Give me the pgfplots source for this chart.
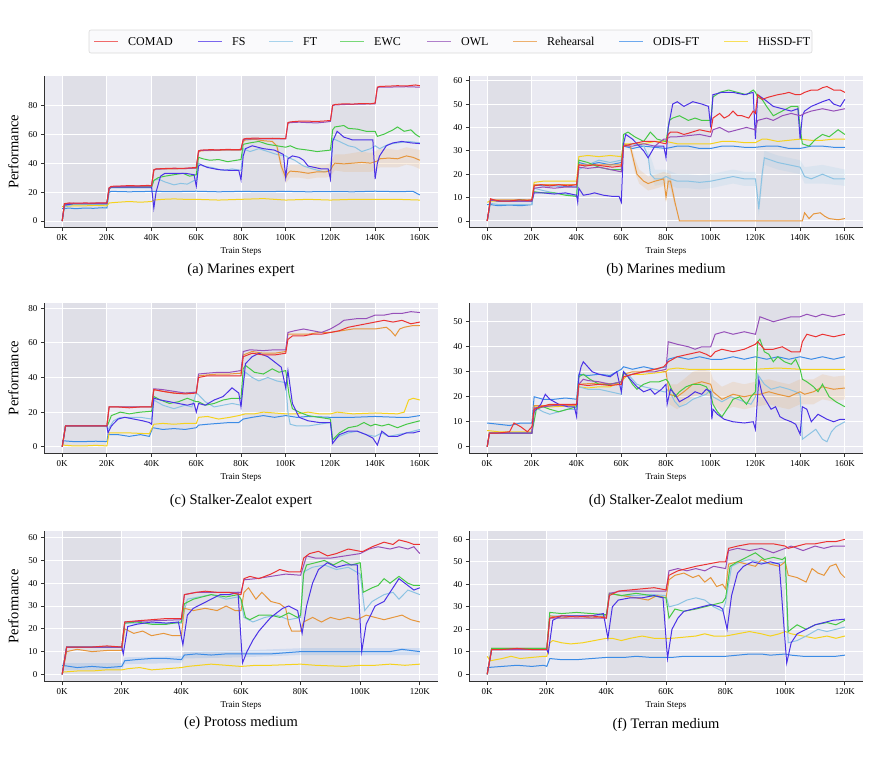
\documentclass[border=0pt]{standalone}
\usepackage{fontspec}
\setmainfont{Liberation Serif}
\usepackage{pgfplots}
\pgfplotsset{compat=1.18}
\definecolor{comad}{HTML}{EB3232}
\definecolor{fs}{HTML}{4B32E6}
\definecolor{ft}{HTML}{8CC3E3}
\definecolor{ewc}{HTML}{46C846}
\definecolor{owl}{HTML}{9650B9}
\definecolor{reh}{HTML}{E6963C}
\definecolor{odis}{HTML}{3C8CE6}
\definecolor{hissd}{HTML}{F5D21E}
\definecolor{bgc}{HTML}{EAEAF2}
\definecolor{shc}{HTML}{DFDFE7}
\definecolor{lcomad}{HTML}{F06A6A}
\definecolor{lfs}{HTML}{7A66EE}
\definecolor{lft}{HTML}{A8D3EC}
\definecolor{lewc}{HTML}{78D878}
\definecolor{lowl}{HTML}{B07FCB}
\definecolor{lreh}{HTML}{EDB06E}
\definecolor{lodis}{HTML}{6DA9EE}
\definecolor{lhissd}{HTML}{F8DF5A}
\pgfplotsset{
 base/.style={
  set layers, scale only axis, width=393.4pt,
  axis background/.style={fill=bgc},
  axis x line=bottom, axis y line=left,
  axis line style={-, draw=black!80, line width=0.8pt},
  tick align=outside, major tick length=3.5pt,
  tick style={draw=black!80, line width=0.8pt},
  grid=major, major grid style={draw=white, line width=0.9pt},
  tick label style={font=\fontsize{9}{10}\selectfont},
  /pgf/number format/assume math mode=true,
  xlabel={Train Steps},
  every axis x label/.style={at={(rel axis cs:0.5,0)}, anchor=center, yshift=-24pt, font=\fontsize{9}{10}\selectfont},
  every axis title/.style={at={(rel axis cs:0.5,0)}, anchor=center, yshift=-42.5pt, font=\fontsize{14.5}{16}\selectfont},
  every axis y label/.style={at={(rel axis cs:0,0.5)}, xshift=-31pt, rotate=90, anchor=center, font=\fontsize{14.5}{16}\selectfont},
  every axis plot/.append style={line width=1pt},
  no marks,
 },
 x160/.style={xmin=-8, xmax=168, xtick={0,20,...,160}, xticklabels={0K,20K,40K,60K,80K,100K,120K,140K,160K}},
 x120/.style={xmin=-6, xmax=126, xtick={0,20,...,120}, xticklabels={0K,20K,40K,60K,80K,100K,120K}},
 band/.style={fill=shc, draw=none, on layer=axis background, forget plot},
 ci/.style={fill=#1, fill opacity=0.15, draw=none, forget plot},
}
\newcommand{\bandsA}[2]{%
\addplot[band] coordinates {(0,#1)(0,#2)(20,#2)(20,#1)};
\addplot[band] coordinates {(40,#1)(40,#2)(60,#2)(60,#1)};
\addplot[band] coordinates {(80,#1)(80,#2)(100,#2)(100,#1)};
\addplot[band] coordinates {(120,#1)(120,#2)(140,#2)(140,#1)};}
\newcommand{\bandsB}[2]{%
\addplot[band] coordinates {(0,#1)(0,#2)(20,#2)(20,#1)};
\addplot[band] coordinates {(40,#1)(40,#2)(60,#2)(60,#1)};
\addplot[band] coordinates {(80,#1)(80,#2)(100,#2)(100,#1)};}
\newcommand{\legitem}[3]{%
  \draw[draw=#2, line width=1.5pt] (#1pt,-41.5pt) -- ++(24pt,0pt);
  \node[anchor=base west, inner sep=0pt, font=\fontsize{12}{13}\selectfont] at ({#1pt+34pt},-45.6pt) {#3};}
\begin{document}
\begin{tikzpicture}
\path (0,0) rectangle (869pt,-758pt);
% ---------------- legend
\draw[black!15, fill=white!75!bgc, rounded corners=2pt, line width=0.6pt] (89pt,-30pt) rectangle (812pt,-53pt);
\legitem{94}{lcomad}{COMAD}
\legitem{198}{lfs}{FS}
\legitem{269}{lft}{FT}
\legitem{340}{lewc}{EWC}
\legitem{427}{lowl}{OWL}
\legitem{513}{lreh}{Rehearsal}
\legitem{619}{lodis}{ODIS-FT}
\legitem{724}{lhissd}{HiSSD-FT}
% ---------------- (a)
\begin{axis}[base, x160, at={(44.3pt,-76pt)}, anchor=north west, height=151.7pt,
 ymin=-4.6, ymax=100.2, ytick={0,20,...,80}, ylabel={Performance}, title={(a) Marines expert}]
\bandsA{-4.6}{100.2}
\addplot[ci=reh] coordinates {(96,55)(98,42)(100,35)(102,39)(106,39)(110,38)(114,39)(118,39)(120,40)(122,46)(126,46)(130,47)(134,48)(138,47)(140,48)(142,50)(146,50)(150,49)(154,51)(157,50)(160,49)(160,36)(157,38)(154,39)(150,37)(146,37)(142,37)(140,35)(138,34)(134,34)(130,34)(126,34)(122,35)(120,31)(118,30)(114,30)(110,29)(106,30)(102,30)(100,26)(98,34)(96,50)};
\addplot[odis] coordinates {(0,8.5)(0.5,8.5)(3,9)(6,8.5)(10,9)(14,8.8)(18,9.2)(20,9)(21,20)(22,20.5)(30,20.2)(40,20.5)(50,20.3)(60,20.6)(70,20.2)(80,20.5)(90,20.3)(100,20.5)(110,20.2)(120,20.4)(130,20.2)(140,20.6)(150,20.3)(157,20.5)(160,18)};
\addplot[hissd] coordinates {(0,10)(0.5,10)(5,10.5)(10,10.5)(15,10.8)(20,10.5)(21,12.5)(25,13)(30,13.5)(35,13)(40,13.5)(41,14.5)(45,15)(50,15.3)(55,15)(60,15)(70,14.5)(80,15)(90,15.5)(100,14.5)(110,15)(120,14.5)(130,15)(140,15)(150,15)(160,14.5)};
\addplot[ft] coordinates {(0,0)(1,10)(5,11.5)(10,11.5)(15,11.5)(20,11.5)(21,22)(22,23)(30,23)(40,23)(41,28)(43,29)(46,27)(50,25)(53,26)(56,25.5)(59,28)(60,28)(61,40)(63,38)(67,37)(72,35)(76,36)(80,35)(81,50)(84,48)(88,50)(92,48)(96,46)(100,45)(101,44)(104,42)(108,38)(112,36)(117,34)(120,35)(121,57)(124,55)(128,52)(131,51)(134,48)(138,50)(140,52)(142,50)(146,53)(150,54)(155,55)(160,54)};
\addplot[reh] coordinates {(0,0)(1,11.5)(5,12)(10,12)(15,12.2)(20,12)(21,22.5)(22,23.5)(28,23.8)(34,24)(40,24)(41,35)(42,36)(48,36)(54,36.2)(60,36.5)(61,47.5)(62,48.5)(68,48.8)(74,49)(80,49)(81,55)(82,56)(86,56.5)(90,55.5)(94,55)(96,52)(98,38)(100,30)(101,33)(102,34.5)(106,34)(110,33)(114,34)(118,34)(120,35)(121,38)(122,40)(126,39.5)(130,40)(134,40.5)(138,40)(140,41)(141,41.5)(142,43)(146,43.5)(150,43)(154,45)(157,44)(160,42)};
\addplot[ewc] coordinates {(0,0)(1,11)(5,12)(10,12)(15,12)(20,12)(21,22.5)(22,23.5)(28,23.5)(34,23.5)(40,23.5)(41,28)(43,30)(46,31)(50,32)(54,33)(57,31)(60,32)(61,44)(63,43)(66,42)(70,42.5)(74,41)(78,42)(80,42.5)(81,53)(84,54)(88,55)(92,53)(96,52)(100,51)(102,52)(105,50)(110,49)(114,48)(117,48.5)(120,49)(121,63)(122,65)(126,66)(128,64)(132,63.5)(136,62)(140,62)(141,58.5)(144,60)(148,63)(150,65)(153,62)(156,63)(158,60)(160,58)};
\addplot[fs] coordinates {(0,0)(1,11)(5,12)(10,12)(15,12)(20,12)(21,22.5)(22,23.5)(28,23.5)(34,23.5)(40,23.5)(41,9)(42,20)(44,31)(46,33)(50,33)(55,33)(59,32)(60,24)(61,38)(62,39)(65,37)(70,35.5)(75,35)(79,35)(80,28.5)(81,45)(82,50)(85,52)(90,50)(95,49)(99,46)(100,30)(101,43)(103,45)(106,44)(108,42)(110,38)(113,37)(116,36)(119,36)(120,29)(121,55)(123,62)(126,58)(130,56)(135,56)(139,56)(140,29)(141,40)(142,45)(145,52)(148,54)(152,55)(156,54)(160,53.5)};
\addplot[owl] coordinates {(0,0)(1,11.8)(5,12.3)(10,12.2)(15,12.4)(20,12.3)(21,22.8)(22,23.8)(28,24)(34,24.2)(40,24.3)(41,35.3)(42,35.8)(48,36.2)(54,36.2)(60,36.6)(61,48)(62,48.8)(68,49)(74,49.2)(80,49.2)(81,56)(82,56.6)(88,56.8)(94,56.8)(100,56.8)(101,67.5)(102,68)(106,68.3)(110,68)(114,67.8)(118,68.4)(120,68.8)(121,79.8)(122,80.2)(128,80.6)(134,80.8)(140,81)(141,92)(142,92.6)(148,92.6)(154,92.8)(160,92.5)};
\addplot[comad] coordinates {(0,0)(1,12)(3,12.5)(6,12.3)(10,12.5)(14,12.4)(17,12.6)(20,12.5)(21,23)(22,24)(26,24.2)(30,24.5)(34,24.3)(38,24.6)(40,24.5)(41,35.5)(42,36)(46,36.3)(50,36.5)(54,36.4)(58,36.8)(60,37)(61,48.5)(62,49)(66,49.3)(70,49.2)(74,49.5)(78,49.3)(80,49.5)(81,56.5)(82,57)(86,57.3)(90,57.1)(94,57.2)(98,57)(100,57)(101,68)(102,68.5)(106,69)(110,69)(114,68.8)(118,69.2)(120,69.5)(121,80)(122,80.5)(126,81)(130,80.8)(134,81.2)(138,81)(140,81.5)(141,92.5)(142,93)(146,93.2)(150,93.5)(154,93.3)(158,94)(160,93.5)};
\end{axis}
% ---------------- (b)
\begin{axis}[base, x160, at={(469.3pt,-76pt)}, anchor=north west, height=151.7pt,
 ymin=-2.9, ymax=62, ytick={0,10,...,60}, title={(b) Marines medium}]
\bandsA{-2.9}{62}
\addplot[ci=ft] coordinates {(72,31)(75,22)(80,22)(85,20)(90,20)(95,19.5)(100,20)(105,21)(110,22)(115,21)(120,21)(121.5,10)(124,30)(130,28)(140,26)(142,23)(150,24)(160,22)(160,15)(150,16)(142,16)(140,20)(130,22)(124,24)(121.5,2)(120,15)(115,15)(110,16)(105,15)(100,14)(95,13.5)(90,14)(85,14)(80,16)(75,15)(72,25)};
\addplot[ci=reh] coordinates {(64,34)(66,27)(68,22)(72,19)(76,20)(79,21)(82,20)(84,10)(84,6)(82,14)(79,15)(76,14)(72,13)(68,16)(66,21)(64,30)};
\addplot[odis] coordinates {(0,7)(1.5,7)(5,6.5)(10,6.8)(15,6.5)(20,7)(21,15.5)(25,15)(30,15)(35,14.8)(40,14.5)(41,25)(45,24)(50,25)(55,24)(60,25)(61,32)(65,31)(70,32)(75,31.5)(80,31)(85,32)(90,32)(95,31)(100,31)(105,32)(110,32)(115,31.5)(120,31.5)(125,32)(130,32)(135,31)(140,31)(145,32)(150,32)(155,31.5)(160,31.5)};
\addplot[hissd] coordinates {(0,8)(1.5,8.5)(5,8.5)(10,8.5)(15,8.5)(20,8.5)(21,16.5)(25,17)(30,17)(35,17)(40,17)(41,27.5)(45,28)(50,27.5)(55,28)(60,27.5)(61,33)(65,33)(70,33)(75,34)(80,34)(85,33)(90,33)(95,33)(100,33)(105,34)(110,34)(115,33.5)(120,33.5)(123,35)(125,35)(130,34)(135,34.5)(140,35)(145,34.5)(150,34.5)(155,35)(160,35)};
\addplot[ft] coordinates {(0,0)(1.5,7.5)(5,7)(10,7)(15,7)(20,7)(21,14)(25,13)(30,12)(35,11.5)(40,10.5)(41,22)(45,24)(50,26)(55,25)(60,26)(61,32)(65,33)(70,32)(72,28)(73,20)(75,18)(78,18)(80,19)(82,18)(85,17)(90,17)(95,16.5)(100,17)(105,18)(110,19)(115,18)(120,18)(121,10)(121.5,5)(123,20)(124,27)(127,26)(130,25)(135,24)(140,23)(142,19)(145,18)(150,20)(155,18)(160,18)};
\addplot[reh] coordinates {(0,0)(1.5,9)(5,9)(10,9)(15,9)(20,9)(21,15.5)(30,15.5)(40,15.5)(41,24)(50,24)(60,24)(61,33)(64,32)(66,24)(67,20)(70,17)(72,16)(75,17)(79,18)(80,10)(81,17)(82,17)(84,8)(86,0)(90,0)(100,0)(110,0)(120,0)(130,0)(141,0)(142,3.5)(144,1)(146,3)(149,3.5)(151,2)(153,1)(157,0.5)(160,1)};
\addplot[ewc] coordinates {(0,0)(1.5,9)(5,8.5)(10,8.5)(15,9)(20,8.5)(21,12.5)(25,12)(30,12)(35,11)(40,10.5)(41,26)(45,25)(50,23)(55,22)(60,22)(61,37)(63,38)(66,36)(70,34)(73,38)(76,35)(80,34)(81,40)(81.5,43)(83,44)(86,45)(90,43)(93,44)(96,43)(100,43)(101,53)(104,55)(108,56)(112,55)(116,54)(119,56)(120,55)(121,53)(123,52)(125,49)(128,45)(132,47)(136,49)(139,49)(140,40)(141,33)(144,32)(147,35)(150,37)(153,36)(157,39)(160,37)};
\addplot[fs] coordinates {(0,0)(1.5,9)(5,8.5)(10,8.5)(15,8.5)(20,8.5)(21,12)(25,12)(30,11.5)(35,12)(40,11)(40.5,8)(41,14)(43,11)(46,11.5)(48,12)(52,11)(56,10.5)(59,10.5)(60,8)(61,33)(62,37)(65,35)(68,32)(70,30)(72,27)(75,32)(79,32)(80,27)(81,40)(83,50)(85,51)(88,49)(92,51)(96,50)(99,49)(100,40)(101,54)(105,55)(110,55)(115,54)(119,55)(120,35)(121,54)(124,52)(128,49)(132,48)(136,47)(139,48)(140,35)(141,45)(142,47)(145,49)(150,51)(153,52)(155,50)(158,49)(160,52)};
\addplot[owl] coordinates {(0,0)(1.5,9)(5,8.5)(10,8.5)(15,8.5)(20,8.5)(21,14)(25,14.5)(30,14)(35,14.5)(40,14.5)(41,23)(45,22.5)(50,23)(55,22)(60,21)(61,32)(65,32)(70,33)(75,32)(79,35)(80,35)(82,36)(85,36)(90,36.5)(95,37)(100,36)(101,39)(104,40)(108,38)(112,39)(116,40)(120,39)(121,43)(125,44)(128,43)(132,45)(136,46)(140,45)(142,46)(145,47)(150,48)(155,47)(160,48)};
\addplot[comad] coordinates {(0,0)(1.5,9.5)(3,9)(6,8.5)(10,8.5)(14,9)(18,8.8)(20,9)(21,15)(24,15.5)(28,15)(32,15.5)(36,15)(40,15.5)(41,24)(44,23.5)(48,24)(52,23.5)(56,23)(60,23.5)(61,32)(65,33)(70,34)(75,34)(80,33)(81,37)(82,38)(85,38)(88,37)(90,37.5)(95,39)(100,38)(101,44)(104,46)(106,44)(108,45)(110,47)(112,45)(114,45)(117,44)(119,47)(120,46)(121,54)(123,52)(126,53)(130,54)(133,54.5)(135,55)(138,54)(140,54)(142,55)(145,56)(148,56)(150,57)(152,57.5)(155,56)(158,56)(160,55)};
\end{axis}
% ---------------- (c)
\begin{axis}[base, x160, at={(44.3pt,-303pt)}, anchor=north west, height=150pt,
 ymin=-3.6, ymax=83, ytick={0,20,...,80}, ylabel={Performance}, title={(c) Stalker-Zealot expert},
 title style={yshift=-5.5pt}, xlabel style={yshift=-0.7pt}]
\bandsA{-3.6}{83}
\addplot[odis] coordinates {(0,3.5)(5,3)(10,3)(15,3.2)(20,3)(20.5,7)(25,7)(30,6)(35,7)(39,6)(40.5,11)(45,10)(50,10.5)(55,10)(60,11)(61,12.5)(65,13)(70,13.5)(75,14)(79,14)(81,16)(85,17)(90,18)(95,17)(100,18)(105,17)(110,17.5)(120,17)(130,17)(140,17.5)(150,17)(155,17)(160,18)};
\addplot[hissd] coordinates {(0,1)(5,0.5)(10,0.5)(15,0.8)(20,0.5)(21,8)(30,8)(39,7.5)(41,13)(45,13.5)(50,13)(55,13.5)(60,13.5)(61,17)(65,17.5)(70,16)(75,17)(79,18)(82,19)(86,19)(90,20)(95,19.5)(100,19)(105,19)(110,20)(115,19)(120,19)(123,20)(130,19)(140,19.5)(150,19)(153,20)(155,27)(157,28)(160,27)};
\addplot[ft] coordinates {(0,0)(1.5,12)(20,12)(20.5,10)(23,15)(26,17)(30,17)(35,17)(40,16)(41,27)(45,24)(50,22)(55,24)(58,23)(60,31)(61,30)(64,26)(68,23)(72,24)(76,25)(80,24)(81,38)(82,43)(85,40)(88,38)(92,40)(96,38)(100,37)(101,20)(102,13)(105,12)(110,12)(115,13)(120,14)(121,4)(124,6)(128,8)(132,9)(136,7)(140,6)(143,8)(146,6)(150,7)(154,8)(160,10)};
\addplot[reh] coordinates {(0,0)(1.5,12)(20,12)(21,23)(40,23)(41,33)(45,32)(50,31)(55,31)(60,31.5)(61,41)(65,41.5)(70,42)(75,42)(80,42.5)(81,53)(85,55)(90,54)(95,54)(100,55)(101,65)(105,65)(110,65)(115,66)(120,66)(125,67)(130,68)(135,68)(140,68)(145,69)(147,67)(149,64)(151,68)(153,69)(157,70)(160,70)};
\addplot[ewc] coordinates {(0,0)(1.5,12)(20,12)(20.5,13)(22,18)(26,20)(30,19)(35,20)(40,20.5)(41,29)(44,27)(48,25)(52,26)(56,28)(60,26)(61,26)(64,24)(68,25)(72,27)(76,28)(80,28)(81,45)(82,47)(86,43)(90,42)(94,45)(97,43)(100,44)(101.5,30)(103,22)(106,20)(110,18)(115,17)(120,16)(121,4)(124,8)(128,11)(132,12)(135,14)(138,12)(140,13)(143,12)(146,13)(150,11)(154,13)(157,14)(160,15)};
\addplot[fs] coordinates {(0,0)(1.5,12)(20,12)(20.5,8)(22,12)(25,16)(28,17)(32,16)(36,15)(39,14)(40,13)(41,28)(44,27)(48,26)(52,25)(56,24)(59,25)(60,20)(61,25)(64,24)(68,27)(72,29)(76,34)(79,31)(80,23)(82,48)(85,52)(88,54)(92,52)(96,48)(98,46)(100,34)(101,44)(103,25)(106,17)(110,15)(115,14)(120,14)(121,2)(124,7)(128,9)(132,9)(136,7)(139,5)(141,1)(143,9)(146,6)(150,6)(154,8)(157,8)(160,9)};
\addplot[owl] coordinates {(0,0)(1.5,12)(20,12)(21,23)(40,23)(41,33.5)(45,33)(50,32)(55,31)(60,31.5)(61,42)(65,42.5)(70,43)(75,43)(80,44)(81,55)(84,56)(90,55.5)(95,56)(100,56)(101,66)(104,67)(108,68)(112,67)(116,66)(120,68)(124,71)(126,73)(132,74)(136,74)(140,76)(144,76)(148,77)(152,77)(156,78)(160,77.5)};
\addplot[comad] coordinates {(0,0)(1.5,12)(5,12)(10,12)(15,12)(20,12)(21,23)(25,23)(30,22.5)(35,23)(40,23)(41,33)(45,32)(50,31)(55,30.5)(60,31)(61,40)(65,41)(70,41)(75,41)(80,41)(81,52)(85,54)(90,53)(95,53)(100,54)(101,62)(103,64)(108,64)(112,65)(116,65)(120,66)(124,67)(128,69)(132,70)(136,71)(140,72)(144,73)(148,72)(152,73)(156,71)(160,72)};
\end{axis}
% ---------------- (d)
\begin{axis}[base, x160, at={(469.3pt,-303pt)}, anchor=north west, height=150pt,
 ymin=-2.5, ymax=57.5, ytick={0,10,...,50}, title={(d) Stalker-Zealot medium},
 title style={yshift=-5.5pt}, xlabel style={yshift=-0.7pt}]
\bandsA{-2.5}{57.5}
\addplot[ci=reh] coordinates {(81.5,25)(85,25)(88,27)(92,30)(96,31)(100,30)(101,27)(105,24)(110,26)(115,25)(120,26)(126,27)(130,26)(135,25)(140,27)(146,27)(150,29)(155,28)(160,28.5)(160,19)(155,18)(150,19)(146,17)(140,17)(135,15)(130,16)(126,17)(120,16)(115,15)(110,16)(105,14)(101,17)(100,20)(96,21)(92,20)(88,17)(85,15)(81.5,17)};
\addplot[odis] coordinates {(0,9.5)(5,9)(10,8.5)(15,9.5)(20,9.5)(21,20)(25,19)(30,19)(35,19.5)(40,19)(41,29)(45,28.5)(50,29)(55,28.5)(60,31)(61,32)(65,31)(70,32)(75,31)(80,32)(81,35)(85,36)(90,35)(95,36)(100,35)(105,35)(110,36)(115,35)(120,36)(125,35)(130,36)(135,35)(140,36)(145,35)(150,36)(155,35)(160,36)};
\addplot[hissd] coordinates {(0,6.5)(5,6)(10,6)(15,6)(20,6)(21,16)(30,16)(40,16.5)(41,24)(45,23.5)(50,24)(55,24)(60,26)(62,28)(65,29)(70,29)(75,29.5)(80,30)(81,31)(85,31.5)(90,31)(100,31)(110,31)(120,31)(130,31.5)(140,31)(150,31)(160,31)};
\addplot[ft] coordinates {(0,0)(1,5.5)(20,5.5)(21,16)(25,14)(28,13)(32,14)(36,15)(40,15)(41,24)(45,23)(50,23)(55,22)(60,21)(61,30)(64,28)(67,25)(70,24)(75,23)(79,22)(80,22)(81,23)(84,18)(86,16)(89,17)(92,19)(95,20)(98,21)(100,23)(101,20)(105,18)(109,20)(112,19)(115,18)(118,17)(120,20)(121,29)(124,25)(127,23)(131,24)(135,23)(138,22)(140,21)(141,3)(144,5)(147,7)(150,3)(152,2)(154,6)(156,8)(158,9)(160,10)};
\addplot[reh] coordinates {(0,0)(1,5.5)(20,5.5)(21,16.5)(40,16.5)(41,25)(50,25.5)(60,25)(61,29)(65,30)(70,30)(75,31)(80,30)(81.5,21)(85,20)(88,22)(92,25)(96,26)(100,25)(101,22)(105,19)(110,21)(115,20)(120,21)(122,21)(126,22)(130,21)(135,20)(140,22)(142,21)(146,22)(150,24)(155,23)(160,23.5)};
\addplot[ewc] coordinates {(0,0)(1,5.5)(20,5.5)(22,15)(25,16)(28,15)(32,14)(36,15)(40,16)(41,28)(43,29)(46,27)(50,25)(55,25)(60,26)(61,30)(63,28)(65,25)(67,23)(70,25)(73,26)(77,26)(80,27)(81,26)(84,20)(86,22)(89,24)(92,25)(95,25)(98,24)(100,21)(101,17)(103,14)(105,12)(108,16)(110,19)(113,20)(116,17)(118,20)(120,22)(121,42)(122,43)(124,38)(126,37)(128,34)(130,36)(133,34)(136,33)(138,35)(140,31)(141,27)(143,26)(146,24)(148,22)(150,25)(153,20)(156,18)(158,17)(160,16)};
\addplot[fs] coordinates {(0,0)(1,5.5)(20,5.5)(21,14)(24,17)(26,21)(28,19)(32,17)(36,16)(39,16)(40,12)(41,28)(42,32)(43,34)(45,32)(47,30)(50,29)(55,28)(58,30)(60,22)(61,30)(64,27)(67,24)(70,22)(73,23)(75,21)(78,23)(80,25)(80.5,17)(82,23)(84,21)(86,18)(90,20)(93,22)(96,21)(98,23)(100,22)(100.5,11)(101,15)(103,13)(106,11)(110,10)(115,9.5)(119,10)(120,7)(121.5,27)(123,21)(125,18)(127,15)(129,16)(131,12)(133,11)(136,10)(138,9)(140,5)(141,16)(143,15)(145,10)(148,13)(152,11)(155,10)(158,11)(160,11)};
\addplot[owl] coordinates {(0,0)(1,5.5)(20,5.5)(21,15.5)(30,16.5)(40,17)(41,25)(43,27)(45,26.5)(50,26)(55,25)(60,26)(61,28)(65,29)(70,30)(75,30)(80,31)(81,42)(85,41)(90,40)(93,39)(96,40)(100,40)(102,45)(106,46)(110,45)(115,46)(120,45)(122,52)(125,51)(128,50)(132,51)(136,52)(140,52)(143,53)(147,52)(150,53)(155,52)(160,53)};
\addplot[comad] coordinates {(0,0)(1,5.5)(5,5.5)(10,6)(12,9.5)(15,8)(18,6)(20,8)(21,15)(24,16)(28,17)(32,17)(36,17)(40,17)(41,25)(45,24.5)(50,25)(55,24.5)(60,25)(61,28)(65,29)(70,30)(75,31)(79,32)(81,34)(85,36)(90,37)(95,38)(98,37)(100,36)(102,38)(105,39)(110,38)(115,39)(120,41)(121,42)(124,39)(128,39)(132,40)(136,38)(140,38)(141,42)(143,45)(147,44)(150,45)(155,44)(160,45)};
\end{axis}
% ---------------- (e)
\begin{axis}[base, x120, at={(44.3pt,-531pt)}, anchor=north west, height=150.7pt,
 ymin=-3.2, ymax=62.9, ytick={0,10,...,60}, ylabel={Performance}, title={(e) Protoss medium},
 title style={yshift=1pt}]
\bandsB{-3.2}{62.9}
\addplot[ci=odis] coordinates {(0,5)(20,5)(21,7.5)(40,8)(41,10)(60,10.5)(80,11.5)(100,11.5)(120,11.5)(120,8.5)(100,8.5)(80,8.5)(60,7.5)(41,7)(40,5)(21,4.5)(20,2)(0,2)};
\addplot[odis] coordinates {(0,4)(5,3)(10,3.5)(15,3)(20,3.5)(21,6)(25,6.5)(30,7)(35,7)(40,6.5)(41,8.5)(45,9)(50,8.5)(55,9)(60,9)(62,9)(70,9)(80,10)(90,10)(100,10)(105,10)(110,10)(114,11)(120,10)};
\addplot[hissd] coordinates {(0,1)(5,1.5)(10,1.5)(15,2)(20,2)(22,2.5)(26,3)(30,2)(35,2.5)(40,3)(42,3.5)(46,4)(50,4.5)(55,4)(60,3.5)(65,4)(70,4)(80,4.5)(85,4)(95,3.5)(100,4)(105,4)(110,4.5)(115,4)(120,4.5)};
\addplot[ft] coordinates {(0,0)(1.5,12)(20,12)(21,22.5)(40,22.5)(42,33)(46,34)(50,35)(55,33)(59,34)(60,33)(61,25)(64,23)(68,25)(72,26)(76,24)(80,25)(81,45)(84,47)(88,48)(92,46)(96,47)(100,44)(101.5,28)(104,32)(108,35)(111,36)(113,33)(116,37)(120,35)};
\addplot[reh] coordinates {(0,0)(1.5,10)(5,11)(10,10)(15,10.5)(20,10.5)(21,20)(24,18)(27,19)(30,17)(34,18)(37,17)(40,17)(41,29)(44,28)(48,29)(52,28)(55,30)(58,28)(60,28)(61,36)(62.5,38)(65,33)(67,36)(70,32)(73,31)(75,29)(76,22)(77,19)(80,19)(81,23)(84,25)(87,23)(90,25)(93,24)(96,25)(99,24)(102,26)(105,25)(108,24)(111,25)(114,26)(117,24)(120,23)};
\addplot[ewc] coordinates {(0,0)(1.5,12)(20,12)(21,22.5)(25,23)(30,22)(35,22)(40,23)(41,31)(44,33)(47,34)(50,35)(55,34)(59,35)(60,33)(61.5,25)(63,24)(66,26)(70,26)(73,25)(76,27)(79,25)(80,26)(81,44)(82,48)(85,49)(88,50)(91,48)(94,50)(97,48)(100,49)(101,36)(104,38)(106,39)(108,42)(110,40)(113,43)(116,40)(118,39)(120,39)};
\addplot[fs] coordinates {(0,0)(1.5,12)(20,12)(20.5,9)(22,21)(25,22)(30,23)(35,22.5)(39,23)(40.5,13)(42,26)(44,29)(47,31)(50,33)(53,35)(56,35)(59,36)(60.5,5)(62,10)(64,15)(66,19)(68,22)(70,25)(72,27)(74,29)(76,30)(79,28)(80.5,18)(82,30)(84,40)(86,46)(89,49)(92,47)(95,48)(99,48)(100.5,10)(102,22)(105,30)(108,32)(111,38)(113,42)(116,39)(118,37)(120,38)};
\addplot[owl] coordinates {(0,0)(1.5,12)(20,12)(21,23)(30,23.5)(40,24)(41,35)(45,36)(50,36)(55,36)(60,36)(61,41.5)(65,42)(70,43)(75,44)(80,43.5)(82,52)(85,51)(90,51)(95,52)(100,53)(103,55)(106,56)(110,55)(113,56)(116,55)(118,56)(120,53)};
\addplot[comad] coordinates {(0,0)(1.5,12)(5,12)(10,12)(15,12.5)(20,12)(21,23)(25,23.5)(30,24)(35,24.5)(40,24.5)(41,35)(45,36)(48,36.5)(52,36)(56,36)(60,35)(61,42)(63,43)(66,42)(70,44)(73,46)(76,45)(80,45)(81,51)(83,53)(86,54)(89,52)(92,53)(96,55)(100,54)(101,54)(104,56)(108,58)(111,57)(113,59)(116,58)(118,57)(120,57)};
\end{axis}
% ---------------- (f)
\begin{axis}[base, x120, at={(469.3pt,-531pt)}, anchor=north west, height=150.7pt,
 ymin=-3.3, ymax=63.7, ytick={0,10,...,60}, title={(f) Terran medium},
 title style={yshift=-1pt}]
\bandsB{-3.3}{63.7}
\addplot[odis] coordinates {(0,3)(5,3.5)(10,4)(15,3.5)(19,4)(20,3.5)(21,7)(25,6.5)(30,6.5)(35,7)(40,7.5)(42,7.5)(46,7.5)(50,8)(55,7.5)(60,7.5)(62,7.5)(66,8)(70,8)(75,8)(80,8)(84,8.5)(88,9)(92,9)(95,8.5)(100,9)(102,8.5)(106,8)(110,8)(114,8)(117,8)(120,8.5)};
\addplot[hissd] coordinates {(0,8)(1,6)(5,7)(8,8)(11,7)(15,7.5)(19,8)(20,8)(21,14)(22,15)(25,14)(28,13.5)(32,14)(36,15)(40,16)(42,16)(45,15)(48,16)(52,17)(56,16)(60,16)(62,16)(66,16.5)(70,17)(73,18)(76,17)(80,17)(84,18)(88,19)(92,18)(95,17)(98,18)(100,19)(102,18)(106,17)(110,16)(114,17)(117,16)(120,17)};
\addplot[ft] coordinates {(0,0)(1.5,11.5)(20,11.5)(21,26)(40,26)(41,36)(45,35)(50,35)(55,35.5)(60,35)(61,30)(64,31)(67,33)(70,34)(73,33)(76,30)(79,28)(80,32)(82,48)(85,50)(88,51)(91,50)(95,49)(100,50)(101,14)(104,15)(107,17)(111,20)(114,19)(117,20)(120,21)};
\addplot[reh] coordinates {(0,0)(1.5,11.5)(20,11.5)(21,26)(25,25)(30,26)(35,25)(40,26)(41,36)(45,35)(50,34)(54,33)(57,35)(60,34)(61,42)(63,44)(66,45)(69,43)(71,44)(73,41)(75,43)(77,39)(79,40)(80,38)(81,49)(84,50)(87,49)(90,48)(92,51)(95,49)(98,48)(100,50)(101,44)(104,43)(107,41)(109,47)(111,45)(113,44)(115,48)(117,49)(118.5,45)(120,43)};
\addplot[ewc] coordinates {(0,0)(1.5,11.5)(20,11.5)(21,27.5)(25,27)(30,27.5)(35,27)(40,26.5)(41,36)(45,35)(50,36)(55,35)(60,34)(61,25)(63,29)(66,28)(70,29)(73,30)(76,31)(79,32)(80,34)(81.5,48)(84,50)(87,52)(90,54)(93,51)(96,52)(99,51)(100,52)(101,19)(104,22)(107,20)(110,22)(114,23)(117,22)(120,24)};
\addplot[fs] coordinates {(0,0)(1.5,11)(20,11)(20.5,9.5)(22,24)(25,26)(30,26)(35,26)(39,27)(40.5,16)(42,30)(44,33)(48,34)(52,34)(56,35)(59,34)(60.5,7)(62,20)(64,25)(66,28)(69,29)(72,30)(75,31)(78,30)(79,29)(80.5,20)(82,35)(84,45)(86,48)(89,50)(92,49)(95,50)(98,49)(100.5,5)(102,14)(104,18)(107,20)(110,22)(113,23)(116,24)(120,24.5)};
\addplot[owl] coordinates {(0,0)(1.5,11)(20,11)(21,25)(40,25)(41,36)(45,37)(50,37)(55,37)(60,37)(61,46)(64,47)(67,46)(70,47)(73,46)(76,48)(80,47)(81,55)(84,56)(88,55)(92,56)(96,54)(100,56)(102,57)(106,55)(110,57)(113,56)(116,57)(120,57)};
\addplot[comad] coordinates {(0,0)(1.5,11)(5,11)(10,11.5)(15,11)(20,11)(21,25)(25,26)(30,25.5)(35,26)(40,25)(41,35)(44,37)(48,37.5)(52,38)(56,38.5)(60,37.5)(61,44)(64,46)(67,47)(70,48)(74,49)(78,50)(80,50)(81,56)(84,57)(88,58)(92,58)(96,58)(100,57)(101,56)(104,57)(107,58)(110,58)(114,59)(117,59)(120,60)};
\end{axis}
\end{tikzpicture}
\end{document}
